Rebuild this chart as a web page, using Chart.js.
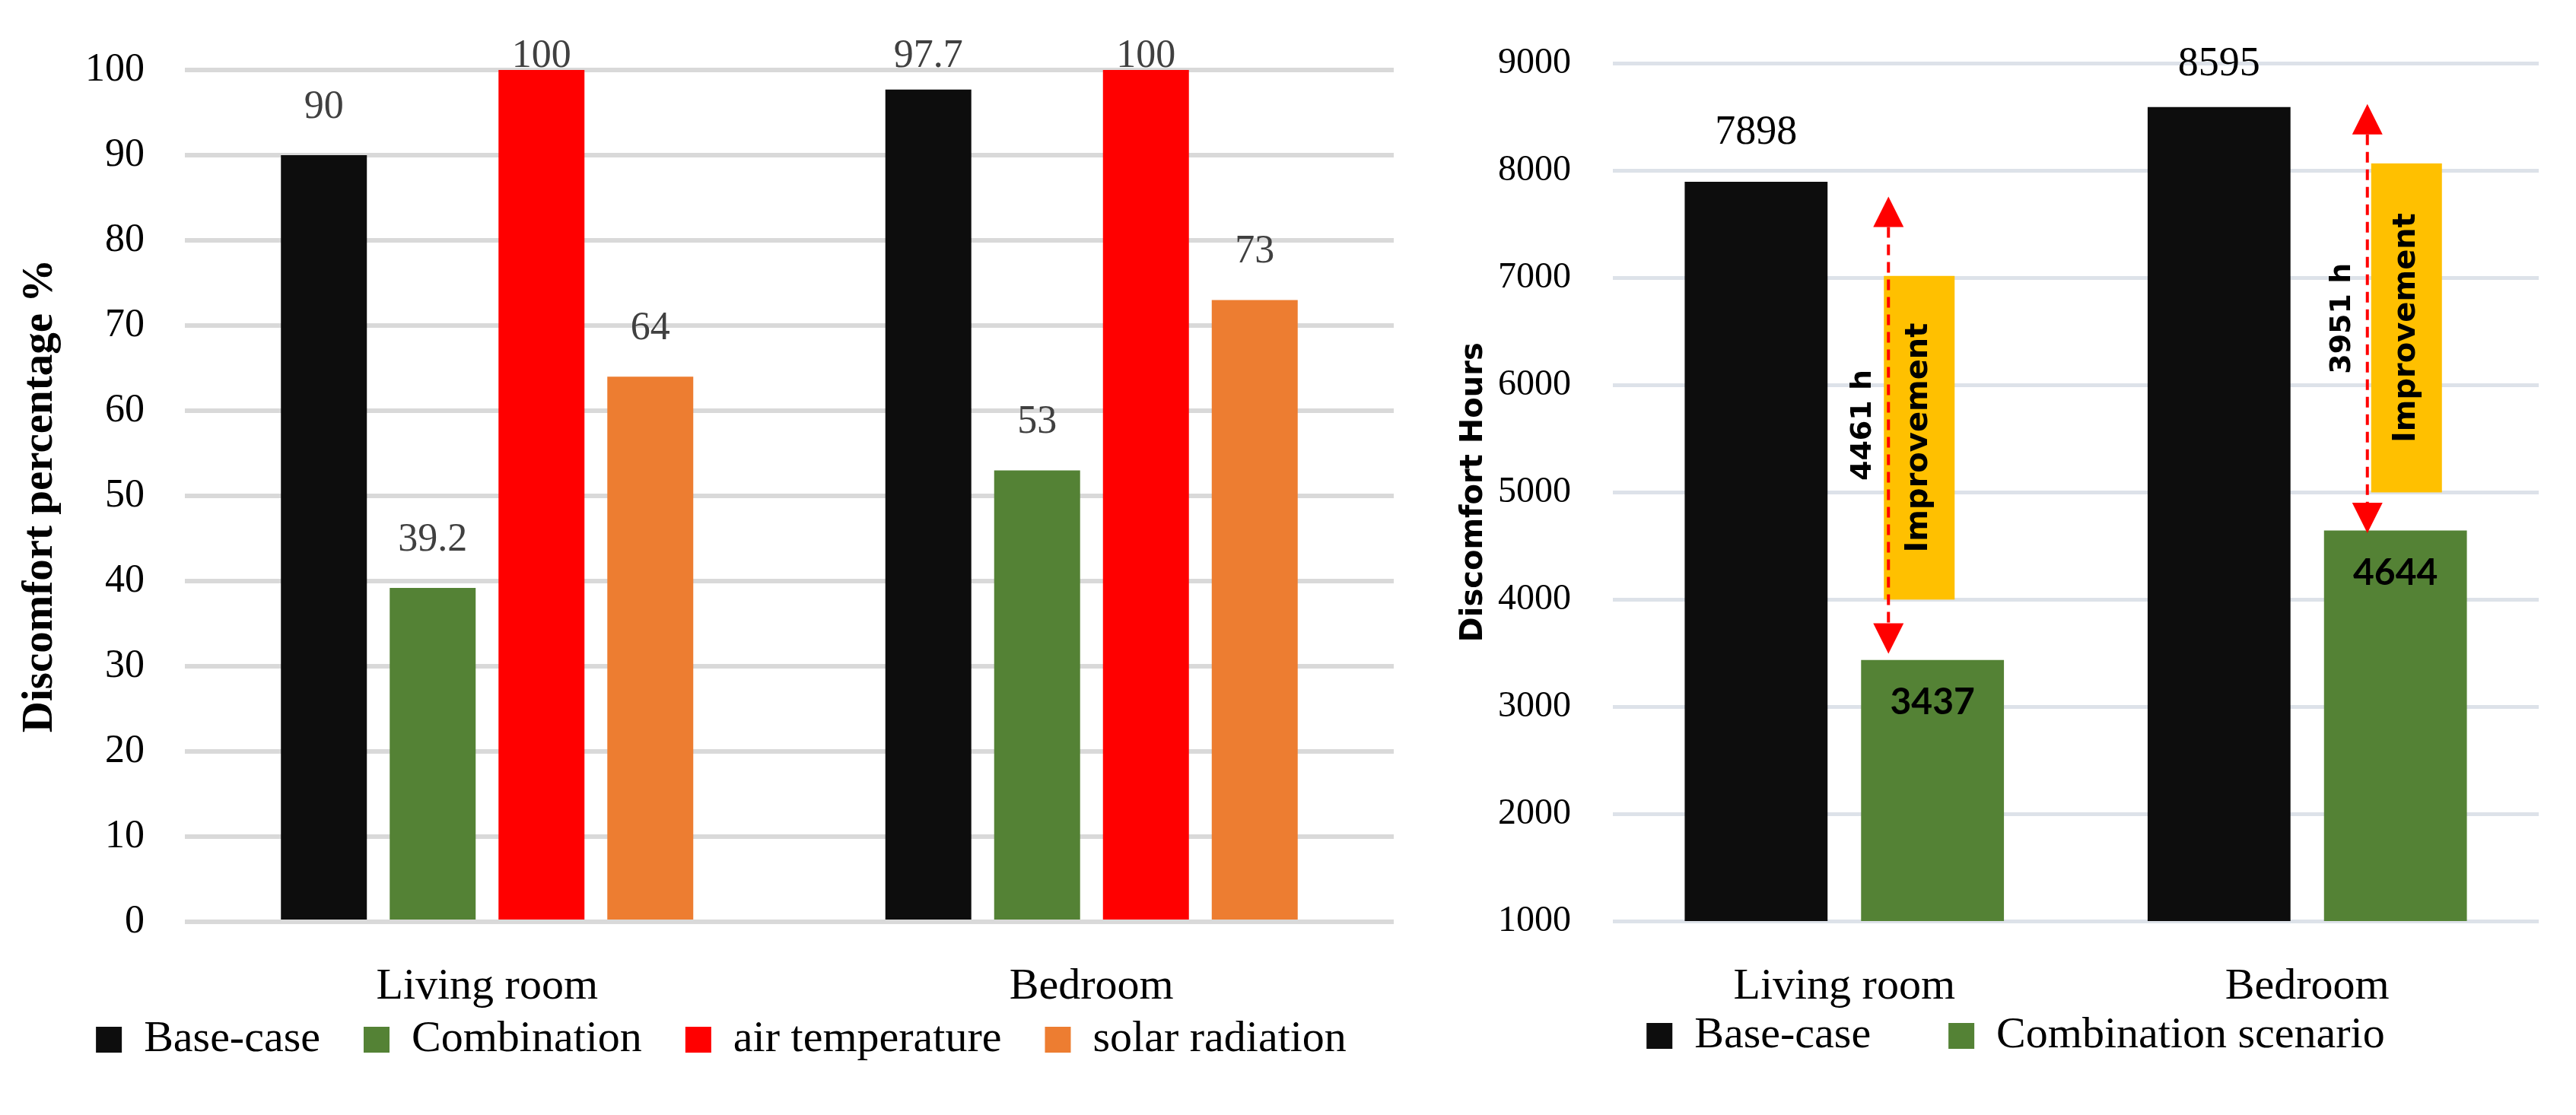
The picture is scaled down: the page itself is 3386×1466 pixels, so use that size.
<!DOCTYPE html>
<html>
<head>
<meta charset="utf-8">
<script src="https://cdn.jsdelivr.net/npm/chart.js@4.4.1/dist/chart.umd.min.js"></script>
<style>
  body { margin: 0; background: #fff; }
  .wrap { position: relative; width: 3386px; height: 1466px; background: #fff; }
  #pct { position: absolute; left: 0; top: 0; }
  #hours { position: absolute; left: 1850px; top: 0; }
</style>
</head>
<body>
<div class="wrap">
  <canvas id="pct" width="1850" height="1466"></canvas>
  <canvas id="hours" width="1536" height="1466"></canvas>
</div>
<script>
const SERIF = "'Liberation Serif', 'Times New Roman', serif";
const SANS = "'DejaVu Sans', Verdana, sans-serif";
const NARROW = "Lato, 'Liberation Sans', sans-serif";

const rooms = ["Living room", "Bedroom"];

// left chart: discomfort percentage
const baseCasePct = [90, 97.7];
const combinationPct = [39.2, 53];
const airTemperaturePct = [100, 100];
const solarRadiationPct = [64, 73];

// right chart: discomfort hours
const baseCaseHours = [7898, 8595];
const combinationHours = [3437, 4644];

// improvement arrows and boxes, in hours
const arrowTop = [7760, 8625];
const arrowBottom = [3495, 4620];
const boxTop = [7020, 8070];
const boxBottom = [4000, 5000];

// value labels above the percentage bars
const pctLabels = {
  id: "pctLabels",
  afterDatasetsDraw(chart) {
    const { ctx, chartArea } = chart;
    ctx.save();
    ctx.font = "52px " + SERIF;
    ctx.fillStyle = "#404040";
    ctx.textAlign = "center";
    ctx.textBaseline = "middle";
    chart.data.datasets.forEach((ds, i) => {
      chart.getDatasetMeta(i).data.forEach((bar, j) => {
        const y = Math.max(bar.y - 63, chartArea.top - 18);
        ctx.fillText(String(ds.data[j]), bar.x, y);
      });
    });
    ctx.restore();
  },
};

const hoursLabels = {
  id: "hoursLabels",
  afterDatasetsDraw(chart) {
    const { ctx, chartArea } = chart;
    ctx.save();
    ctx.textAlign = "center";
    ctx.textBaseline = "middle";
    ctx.fillStyle = "#000";
    ctx.font = "54px " + SERIF;
    chart.getDatasetMeta(0).data.forEach((bar, j) => {
      ctx.fillText(String(baseCaseHours[j]), bar.x, Math.max(bar.y - 64, chartArea.top + 1));
    });
    ctx.font = "bold 48px " + NARROW;
    chart.getDatasetMeta(1).data.forEach((bar, j) => {
      ctx.fillText(String(combinationHours[j]), bar.x, bar.y + 56);
    });
    ctx.restore();
  },
};

function drawUpText(ctx, text, x, y, font) {
  ctx.save();
  ctx.translate(x, y);
  ctx.rotate(-Math.PI / 2);
  ctx.font = font;
  ctx.fillStyle = "#000";
  ctx.textAlign = "center";
  ctx.textBaseline = "middle";
  ctx.fillText(text, 0, 0);
  ctx.restore();
}

const improvement = {
  id: "improvement",
  afterDatasetsDraw(chart, args, opts) {
    const { ctx } = chart;
    const { x, y } = chart.scales;
    const head = 40;
    ctx.save();
    rooms.forEach((room, i) => {
      const ax = x.getPixelForValue(i) + opts.arrowDx[i];
      const top = y.getPixelForValue(arrowTop[i]);
      const bottom = y.getPixelForValue(arrowBottom[i]);

      // yellow box with rotated "Improvement"
      const bx = ax + opts.boxDx[i];
      const bTop = y.getPixelForValue(boxTop[i]);
      const bBottom = y.getPixelForValue(boxBottom[i]);
      ctx.fillStyle = "#ffc000";
      ctx.fillRect(bx, bTop, opts.boxWidth, bBottom - bTop);
      drawUpText(ctx, "Improvement", bx + opts.boxWidth / 2, (bTop + bBottom) / 2, "bold 40px " + SANS);

      // dashed double arrow
      ctx.strokeStyle = "#ff0000";
      ctx.lineWidth = 4;
      ctx.setLineDash([14, 9]);
      ctx.beginPath();
      ctx.moveTo(ax, top + head);
      ctx.lineTo(ax, bottom - head);
      ctx.stroke();
      ctx.setLineDash([]);
      ctx.fillStyle = "#ff0000";
      ctx.beginPath();
      ctx.moveTo(ax, top);
      ctx.lineTo(ax - head / 2, top + head);
      ctx.lineTo(ax + head / 2, top + head);
      ctx.closePath();
      ctx.fill();
      ctx.beginPath();
      ctx.moveTo(ax, bottom);
      ctx.lineTo(ax - head / 2, bottom - head);
      ctx.lineTo(ax + head / 2, bottom - head);
      ctx.closePath();
      ctx.fill();

      const diff = baseCaseHours[i] - combinationHours[i];
      drawUpText(ctx, diff + " h", ax + opts.textDx, (top + bottom) / 2, "bold 38px " + SANS);
    });
    ctx.restore();
  },
};

new Chart(document.getElementById("pct"), {
  type: "bar",
  data: {
    labels: rooms,
    datasets: [
      { label: "Base-case", data: baseCasePct, backgroundColor: "#0d0d0d" },
      { label: "Combination", data: combinationPct, backgroundColor: "#548235" },
      { label: "air temperature", data: airTemperaturePct, backgroundColor: "#ff0000" },
      { label: "solar radiation", data: solarRadiationPct, backgroundColor: "#ed7d31" },
    ],
  },
  options: {
    responsive: false,
    devicePixelRatio: 1,
    animation: false,
    datasets: { bar: { categoryPercentage: 0.72, barPercentage: 0.79, borderWidth: 0 } },
    layout: { padding: { left: 64, right: 18, top: 92, bottom: 60 } },
    plugins: {
      legend: {
        position: "bottom",
        // the empty title with negative padding pulls the row up, so the
        // wide item spacing does not push it down
        title: { display: true, text: "", font: { size: 10 }, padding: { top: -56, bottom: 0 } },
        labels: { boxWidth: 34, boxHeight: 34, padding: 57, color: "#000", font: { family: SERIF, size: 58 } },
      },
      tooltip: { enabled: false },
    },
    scales: {
      x: {
        grid: { display: false },
        border: { display: false },
        ticks: { padding: 43, color: "#000", font: { family: SERIF, size: 58 } },
        afterFit(scale) { scale.height = 113; },
      },
      y: {
        min: 0,
        max: 100,
        ticks: { stepSize: 10, padding: 53, color: "#000", font: { family: SERIF, size: 52 } },
        grid: { color: "#d9d9d9", lineWidth: 6, drawTicks: false },
        border: { display: false },
        title: {
          display: true,
          text: "Discomfort percentage %",
          color: "#000",
          font: { family: SERIF, size: 57, weight: "bold" },
          padding: { top: -45, bottom: 0 },
        },
        afterFit(scale) { scale.width = 179; },
      },
    },
  },
  plugins: [pctLabels],
});

new Chart(document.getElementById("hours"), {
  type: "bar",
  data: {
    labels: rooms,
    datasets: [
      { label: "Base-case", data: baseCaseHours, backgroundColor: "#0d0d0d" },
      { label: "Combination scenario", data: combinationHours, backgroundColor: "#548235" },
    ],
  },
  options: {
    responsive: false,
    devicePixelRatio: 1,
    animation: false,
    datasets: { bar: { categoryPercentage: 0.762, barPercentage: 0.81, borderWidth: 0 } },
    layout: { padding: { left: 112, right: 49, top: 83, bottom: 65 } },
    plugins: {
      legend: {
        position: "bottom",
        title: { display: true, text: "", font: { size: 10 }, padding: { top: -106, bottom: 0 } },
        labels: { boxWidth: 34, boxHeight: 34, padding: 102, color: "#000", font: { family: SERIF, size: 58 } },
      },
      tooltip: { enabled: false },
      improvement: { arrowDx: [58, 79], boxDx: [-6, 5], boxWidth: 93, textDx: -33 },
    },
    scales: {
      x: {
        grid: { display: false },
        border: { display: false },
        ticks: { padding: 44, color: "#000", font: { family: SERIF, size: 58 } },
        afterFit(scale) { scale.height = 114; },
      },
      y: {
        min: 1000,
        max: 9000,
        ticks: {
          stepSize: 1000,
          padding: 55,
          color: "#000",
          font: { family: SERIF, size: 48 },
          // plain numbers, no thousands separator
          callback(value) {
            return String(value);
          },
        },
        grid: { color: "#dde2e9", lineWidth: 5, drawTicks: false },
        border: { display: false },
        title: {
          display: true,
          text: "Discomfort Hours",
          color: "#000",
          font: { family: SANS, size: 40, weight: "bold" },
          padding: { top: -48, bottom: 0 },
        },
        afterFit(scale) { scale.width = 158; },
      },
    },
  },
  plugins: [hoursLabels, improvement],
});
</script>
</body>
</html>
